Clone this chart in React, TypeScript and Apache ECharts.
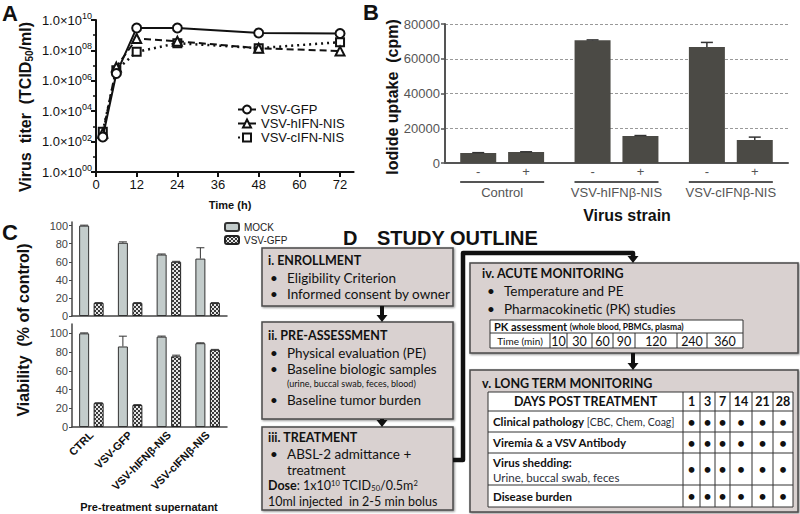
import React, { useEffect, useRef } from 'react';
import * as echarts from 'echarts';

// ---------- Panel A: virus growth ----------
const timeHours = [2, 6, 12, 24, 48, 72];
const titerGFP = [2e2, 3e6, 3e9, 3e9, 1.4e9, 1.3e9];
const titerHIFN = [3.5e2, 8e6, 6e8, 4e8, 1.4e8, 9e7];
const titerCIFN = [4.5e2, 5e6, 8e7, 3e8, 1.4e8, 3.5e8];
const timeTicks = [0, 12, 24, 36, 48, 60, 72];
const titerExpTicks = [0, 2, 4, 6, 8, 10];
const growthNames = ['VSV-GFP', 'VSV-hIFN-NIS', 'VSV-cIFN-NIS'];

// ---------- Panel B: iodide uptake ----------
const strains = ['Control', 'VSV-hIFNβ-NIS', 'VSV-cIFNβ-NIS'];
const uptakeMinus = [5800, 70600, 66800];
const uptakeMinusErr = [150, 250, 2600];
const uptakePlus = [6300, 15600, 13300];
const uptakePlusErr = [150, 200, 1600];
const uptakeTicks = [0, 20000, 40000, 60000, 80000];

// ---------- Panel C: viability ----------
const supernatants = ['CTRL', 'VSV-GFP', 'VSV-hIFNβ-NIS', 'VSV-cIFNβ-NIS'];
const topMock = [100, 81, 68, 63.5];
const topMockErr = [0.5, 1, 0.6, 12];
const topGFP = [14.5, 14.5, 60, 14.5];
const topGFPErr = [0.3, 0.3, 0.5, 0.3];
const botMock = [100, 86, 96.5, 89.5];
const botMockErr = [0.5, 11, 0.6, 0.4];
const botGFP = [25.5, 23.5, 75.5, 82.5];
const botGFPErr = [0.4, 0.4, 1.2, 0.4];
const viabilityTicks = [0, 20, 40, 60, 80, 100];
const viabilityNames = ['MOCK', 'VSV-GFP'];

// ---------- Panel D: study outline ----------
const pkTimes = ['10', '30', '60', '90', '120', '240', '360'];
const followDays = ['1', '3', '7', '14', '21', '28'];

const AR = '"Liberation Sans", Arial, sans-serif';
const CAL = 'Lato, "Open Sans", sans-serif';
const INK = '#111';

function txt(x: number, y: number, text: string, size: number, opts: any = {}) {
  const style: any = {
    text,
    fontFamily: opts.family || AR,
    fontSize: size,
    fontWeight: opts.bold ? 'bold' : 'normal',
    fill: opts.fill || INK,
    align: opts.align || 'left',
    verticalAlign: 'middle',
    textAlign: opts.align || 'left',
    textVerticalAlign: 'middle',
  };
  if (opts.rich) style.rich = opts.rich;
  return { type: 'text', x, y, rotation: opts.rotation || 0, silent: true, z: 20, style };
}
function rect(x: number, y: number, w: number, h: number, fill: string, stroke: string, lw: number, extra: any = {}) {
  return { type: 'rect', shape: { x, y, width: w, height: h }, style: { fill, stroke, lineWidth: lw, ...extra }, silent: true, z: 10 };
}
function ln(x1: number, y1: number, x2: number, y2: number, stroke = '#333', lw = 1) {
  return { type: 'line', shape: { x1, y1, x2, y2 }, style: { stroke, lineWidth: lw }, silent: true, z: 12 };
}
function arrowDown(x: number, y1: number, y2: number) {
  return [
    ln(x, y1, x, y2 - 6, INK, 4),
    { type: 'polygon', shape: { points: [[x - 5.5, y2 - 7], [x + 5.5, y2 - 7], [x, y2]] }, style: { fill: INK }, silent: true, z: 12 },
  ];
}

function errSeries(xi: number, yi: number, vals: number[], errs: number[], offset: number, cap: number, color: string, lw: number) {
  return {
    type: 'custom',
    xAxisIndex: xi,
    yAxisIndex: yi,
    z: 6,
    silent: true,
    data: vals.map((v, i) => [i, v, errs[i]]),
    encode: { x: 0, y: 1 },
    renderItem: (params: any, api: any) => {
      const i = api.value(0);
      const v = api.value(1);
      const e = api.value(2);
      const p0 = api.coord([i, v]);
      const p1 = api.coord([i, v + e]);
      const x = p0[0] + offset;
      return {
        type: 'group',
        children: [
          { type: 'line', shape: { x1: x, y1: p0[1], x2: x, y2: p1[1] }, style: { stroke: color, lineWidth: lw } },
          { type: 'line', shape: { x1: x - cap, y1: p1[1], x2: x + cap, y2: p1[1] }, style: { stroke: color, lineWidth: lw } },
        ],
      };
    },
  };
}

function buildOption() {
  const cv = document.createElement('canvas');
  cv.width = 4;
  cv.height = 4;
  const g = cv.getContext('2d')!;
  g.fillStyle = '#e6e6e6';
  g.fillRect(0, 0, 4, 4);
  g.fillStyle = '#3a3a3a';
  g.fillRect(0, 0, 2, 2);
  g.fillRect(2, 2, 2, 2);
  const checker: any = { image: cv, repeat: 'repeat', imageWidth: 4, imageHeight: 4 };

  const mockStyle = { color: '#c3cccb', borderColor: '#333', borderWidth: 1 };
  const gfpStyle = { color: checker, borderColor: '#222', borderWidth: 1 };

  const barB = '#4b4a45';
  const grayAxis = '#555';

  const graphics: any[] = [];
  // panel letters
  graphics.push(txt(2, 13, 'A', 22, { bold: true }));
  graphics.push(txt(363, 12, 'B', 22, { bold: true }));
  graphics.push(txt(2, 232, 'C', 22, { bold: true }));
  graphics.push(txt(343, 238, 'D', 20, { bold: true }));
  graphics.push(txt(377, 238, 'STUDY OUTLINE', 20, { bold: true }));

  // axis titles
  graphics.push(
    txt(25, 107, 'Virus  titer  (TCID{s|50}/ml)', 16, {
      bold: true,
      align: 'center',
      rotation: Math.PI / 2,
      rich: { s: { fontFamily: AR, fontWeight: 'bold', fontSize: 10, padding: [8, 0, 0, 0], fill: INK, color: INK } },
    })
  );
  graphics.push(txt(230, 205, 'Time (h)', 11, { bold: true, align: 'center' }));
  graphics.push(txt(392, 97, 'Iodide uptake  (cpm)', 16, { bold: true, align: 'center', rotation: Math.PI / 2 }));
  graphics.push(txt(627, 215, 'Virus strain', 16, { bold: true, align: 'center' }));
  graphics.push(txt(23, 330, 'Viability  (% of control)', 16, { bold: true, align: 'center', rotation: Math.PI / 2 }));
  graphics.push(txt(149, 507, 'Pre-treatment supernatant', 11, { bold: true, align: 'center' }));

  // ---------- Panel D diagram ----------
  const boxFill = '#d9d1d0';
  const boxStroke = '#4a4a4a';
  const shadow = { shadowBlur: 2, shadowColor: 'rgba(0,0,0,0.45)', shadowOffsetX: 1, shadowOffsetY: 1 };
  graphics.push(rect(262, 248, 191, 58, boxFill, boxStroke, 1.5, shadow));
  graphics.push(rect(262, 322, 191, 97, boxFill, boxStroke, 1.5, shadow));
  graphics.push(rect(262, 427, 191, 83, boxFill, boxStroke, 1.5, shadow));
  graphics.push(rect(470, 263, 328, 90, boxFill, boxStroke, 1.5, shadow));
  graphics.push(rect(470, 370, 328, 142, boxFill, boxStroke, 1.5, shadow));

  graphics.push(...arrowDown(382, 306, 322));
  graphics.push(...arrowDown(382, 419, 427));
  graphics.push(...arrowDown(633, 353, 370));
  graphics.push({
    type: 'polyline',
    shape: { points: [[453, 460], [463, 460], [463, 253], [633, 253], [633, 257]] },
    style: { stroke: INK, lineWidth: 4.5, fill: null, lineJoin: 'round' },
    silent: true,
    z: 12,
  });
  graphics.push({ type: 'polygon', shape: { points: [[627.5, 256], [638.5, 256], [633, 263]] }, style: { fill: INK }, silent: true, z: 12 });

  const body = 13.5;
  const bul = (x: number, y: number, t: string) => [txt(x, y, '•', body, { family: CAL }), txt(x + 17, y, t, body, { family: CAL })];
  // box i
  graphics.push(txt(268, 260, 'i. ENROLLMENT', 12.5, { family: CAL, bold: true }));
  graphics.push(...bul(270, 278, 'Eligibility Criterion'));
  graphics.push(...bul(270, 294, 'Informed consent by owner'));
  // box ii
  graphics.push(txt(268, 335, 'ii. PRE-ASSESSMENT', 12.5, { family: CAL, bold: true }));
  graphics.push(...bul(270, 353, 'Physical evaluation (PE)'));
  graphics.push(...bul(270, 369, 'Baseline biologic samples'));
  graphics.push(txt(287, 383, '(urine, buccal swab, feces, blood)', 9, { family: CAL }));
  graphics.push(...bul(270, 400, 'Baseline tumor burden'));
  // box iii
  graphics.push(txt(268, 437, 'iii. TREATMENT', 12.5, { family: CAL, bold: true }));
  graphics.push(...bul(270, 454, 'ABSL-2 admittance +'));
  graphics.push(txt(287, 469.5, 'treatment', body, { family: CAL }));
  graphics.push(
    txt(268, 485.5, '{b|Dose}: 1x10{p|10} TCID{d|50}/0.5m{p|2}', 12.5, {
      family: CAL,
      rich: {
        b: { fontFamily: CAL, fontWeight: 'bold', fontSize: 12.5, fill: INK, color: INK, lineHeight: 13 },
        p: { fontFamily: CAL, fontSize: 7.5, padding: [0, 0, 5, 0], fill: INK, color: INK, lineHeight: 8 },
        d: { fontFamily: CAL, fontSize: 7.5, padding: [5, 0, 0, 0], fill: INK, color: INK, lineHeight: 8 },
      },
    })
  );
  graphics.push(txt(268, 501.5, '10ml injected  in 2-5 min bolus', 12.5, { family: CAL }));

  // box iv
  graphics.push(txt(482, 273, 'iv. ACUTE MONITORING', 12.5, { family: CAL, bold: true }));
  graphics.push(...bul(487, 291, 'Temperature and PE'));
  graphics.push(...bul(487, 309, 'Pharmacokinetic (PK) studies'));
  graphics.push(rect(490, 320, 253, 28, '#ffffff', '#333', 1));
  graphics.push(ln(490, 333, 743, 333));
  graphics.push(
    txt(494, 326.5, 'PK assessment {s|(whole blood, PBMCs, plasma)}', 11, {
      family: CAL,
      bold: true,
      rich: { s: { fontFamily: CAL, fontWeight: 'bold', fontSize: 8.5, fill: INK, color: INK } },
    })
  );
  const pkCols = [490, 550, 567, 592, 613, 635, 677, 707, 743];
  for (let c = 1; c < pkCols.length - 1; c++) graphics.push(ln(pkCols[c], 333, pkCols[c], 348));
  graphics.push(txt((pkCols[0] + pkCols[1]) / 2, 341, 'Time (min)', 10, { family: CAL, align: 'center' }));
  pkTimes.forEach((t, i) => graphics.push(txt((pkCols[i + 1] + pkCols[i + 2]) / 2, 341, t, 12.5, { family: CAL, align: 'center' })));

  // box v
  graphics.push(txt(482, 383, 'v. LONG TERM MONITORING', 12.5, { family: CAL, bold: true }));
  graphics.push(rect(488, 392, 305, 115, '#ffffff', '#333', 1));
  const vRows = [392, 411, 432, 453, 485, 507];
  const vCols = [488, 683, 700, 715, 730, 752, 773, 793];
  for (let r = 1; r < vRows.length - 1; r++) graphics.push(ln(488, vRows[r], 793, vRows[r]));
  for (let c = 1; c < vCols.length - 1; c++) graphics.push(ln(vCols[c], 392, vCols[c], 507));
  graphics.push(txt((vCols[0] + vCols[1]) / 2, 401.5, 'DAYS POST TREATMENT', 12.5, { family: CAL, bold: true, align: 'center' }));
  followDays.forEach((d, i) => graphics.push(txt((vCols[i + 1] + vCols[i + 2]) / 2, 401.5, d, 12.5, { family: CAL, bold: true, align: 'center' })));
  graphics.push(
    txt(493, 421.5, 'Clinical pathology {n|[CBC, Chem, Coag]}', 11.5, {
      family: CAL,
      bold: true,
      rich: { n: { fontFamily: CAL, fontWeight: 'normal', fontSize: 10.5, fill: '#2b2f3a', color: '#2b2f3a' } },
    })
  );
  graphics.push(txt(493, 442.5, 'Viremia & a VSV Antibody', 11.5, { family: CAL, bold: true }));
  graphics.push(txt(493, 462, 'Virus shedding:', 11.5, { family: CAL, bold: true }));
  graphics.push(txt(493, 477, 'Urine, buccal swab, feces', 11.5, { family: CAL, fill: '#2b2f3a' }));
  graphics.push(txt(493, 496, 'Disease burden', 11.5, { family: CAL, bold: true }));
  const dotRows = [421.5, 442.5, 469, 496];
  dotRows.forEach((ry) => {
    followDays.forEach((_, i) => graphics.push(txt((vCols[i + 1] + vCols[i + 2]) / 2, ry, '•', 13, { family: CAL, bold: true, align: 'center' })));
  });

  const option: any = {
    animation: false,
    backgroundColor: '#ffffff',
    textStyle: { fontFamily: AR },
    grid: [
      { left: 96, top: 20, width: 257.6, height: 152, containLabel: false, outerBoundsMode: 'none' },
      { left: 445, top: 24, width: 343, height: 139, containLabel: false, outerBoundsMode: 'none' },
      { left: 72, top: 222, width: 155, height: 94, containLabel: false, outerBoundsMode: 'none' },
      { left: 72, top: 324, width: 155, height: 103, containLabel: false, outerBoundsMode: 'none' },
    ],
    xAxis: [
      {
        type: 'value',
        gridIndex: 0,
        min: 0,
        max: 76,
        interval: 12,
        axisLine: { lineStyle: { color: INK, width: 2 } },
        axisTick: { show: true, length: 5, lineStyle: { color: INK, width: 2 }, customValues: timeTicks },
        axisLabel: { fontSize: 13, color: INK, fontFamily: AR, margin: 6, customValues: timeTicks },
        splitLine: { show: false },
      },
      {
        type: 'category',
        gridIndex: 1,
        data: strains,
        axisLine: { lineStyle: { color: grayAxis, width: 2 } },
        axisTick: { show: false },
        axisLabel: {
          interval: 0,
          margin: 18,
          formatter: (v: string) => `{ln| }\n{nm|${v}}`,
          rich: {
            ln: { width: 84, height: 2, lineHeight: 2, backgroundColor: '#555', fontSize: 1 },
            nm: { fontSize: 13, color: '#555', fontFamily: AR, lineHeight: 16, padding: [2, 0, 0, 0] },
          },
        },
        splitLine: { show: false },
      },
      {
        type: 'category',
        gridIndex: 2,
        data: supernatants,
        axisLine: { lineStyle: { color: '#444', width: 1.5 } },
        axisTick: { show: false },
        axisLabel: { show: false },
      },
      {
        type: 'category',
        gridIndex: 3,
        data: supernatants,
        axisLine: { lineStyle: { color: '#444', width: 1.5 } },
        axisTick: { show: false },
        axisLabel: { interval: 0, rotate: 45, fontSize: 11, fontWeight: 'bold', color: INK, fontFamily: AR, margin: 6 },
      },
    ],
    yAxis: [
      {
        type: 'value',
        gridIndex: 0,
        min: 0,
        max: 10,
        interval: 2,
        axisLine: { show: true, lineStyle: { color: INK, width: 2 } },
        axisTick: { show: true, length: 5, lineStyle: { color: INK, width: 2 } },
        minorTick: { show: true, splitNumber: 2, length: 3, lineStyle: { color: INK, width: 1.5 } },
        axisLabel: {
          margin: 4,
          formatter: (v: number) => `{m|1.0×10}{s|${String(v).padStart(2, '0')}}`,
          rich: {
            m: { fontSize: 13, fontFamily: AR, color: INK },
            s: { fontSize: 9, fontFamily: AR, color: INK, padding: [0, 0, 8, 0] },
          },
          customValues: titerExpTicks,
        },
        splitLine: { show: false },
      },
      {
        type: 'value',
        gridIndex: 1,
        min: 0,
        max: 80000,
        interval: 20000,
        axisLine: { show: true, lineStyle: { color: grayAxis, width: 2 } },
        axisTick: { show: true, length: 4, lineStyle: { color: grayAxis, width: 1.5 } },
        axisLabel: { fontSize: 13, color: '#555', fontFamily: AR, margin: 5, customValues: uptakeTicks, formatter: (v: number) => String(v) },
        splitLine: { show: true, lineStyle: { color: '#999', type: [3, 2], width: 1 } },
      },
      {
        type: 'value',
        gridIndex: 2,
        min: 0,
        max: 104,
        interval: 20,
        axisLine: { show: true, lineStyle: { color: '#444', width: 1.5 } },
        axisTick: { show: true, length: 3, lineStyle: { color: '#444' }, customValues: viabilityTicks },
        axisLabel: { fontSize: 11, color: '#444', fontFamily: AR, margin: 4, customValues: viabilityTicks },
        splitLine: { show: false },
      },
      {
        type: 'value',
        gridIndex: 3,
        min: 0,
        max: 110,
        interval: 20,
        axisLine: { show: true, lineStyle: { color: '#444', width: 1.5 } },
        axisTick: { show: true, length: 3, lineStyle: { color: '#444' }, customValues: viabilityTicks },
        axisLabel: { fontSize: 11, color: '#444', fontFamily: AR, margin: 4, customValues: viabilityTicks },
        splitLine: { show: false },
      },
    ],
    legend: [
      {
        data: growthNames,
        orient: 'vertical',
        left: 232,
        top: 98,
        itemWidth: 18,
        itemHeight: 10,
        itemGap: 1,
        textStyle: { fontSize: 13, color: INK, fontFamily: AR },
      },
      {
        data: viabilityNames.map((n) => (n === 'VSV-GFP' ? 'VSV-GFP (C)' : n)),
        orient: 'vertical',
        left: 219,
        top: 217,
        itemWidth: 14,
        itemHeight: 8,
        itemGap: 3,
        formatter: (n: string) => n.replace(' (C)', ''),
        textStyle: { fontSize: 10, color: '#222', fontFamily: AR },
      },
    ],
    series: [
      {
        name: growthNames[0],
        type: 'line',
        xAxisIndex: 0,
        yAxisIndex: 0,
        data: timeHours.map((t, i) => [t, Math.log10(titerGFP[i])]),
        symbol: 'emptyCircle',
        symbolSize: 9,
        lineStyle: { color: INK, width: 2, type: 'solid' },
        itemStyle: { color: INK, borderWidth: 1.5 },
        z: 4,
      },
      {
        name: growthNames[1],
        type: 'line',
        xAxisIndex: 0,
        yAxisIndex: 0,
        data: timeHours.map((t, i) => [t, Math.log10(titerHIFN[i])]),
        symbol: 'emptyTriangle',
        symbolSize: 9,
        lineStyle: { color: INK, width: 2, type: [7, 4] },
        itemStyle: { color: INK, borderWidth: 1.5 },
        z: 3,
      },
      {
        name: growthNames[2],
        type: 'line',
        xAxisIndex: 0,
        yAxisIndex: 0,
        data: timeHours.map((t, i) => [t, Math.log10(titerCIFN[i])]),
        symbol: 'emptyRect',
        symbolSize: 8,
        lineStyle: { color: INK, width: 2.5, type: [2, 4] },
        itemStyle: { color: INK, borderWidth: 1.5 },
        z: 2,
      },
      {
        name: 'minus',
        type: 'bar',
        xAxisIndex: 1,
        yAxisIndex: 1,
        data: uptakeMinus,
        barWidth: 36,
        barGap: '33%',
        itemStyle: { color: barB },
        label: { show: true, position: 'bottom', distance: 2, formatter: '-', fontSize: 13, color: '#555', fontFamily: AR },
      },
      {
        name: 'plus',
        type: 'bar',
        xAxisIndex: 1,
        yAxisIndex: 1,
        data: uptakePlus,
        barWidth: 36,
        barGap: '33%',
        itemStyle: { color: barB },
        label: { show: true, position: 'bottom', distance: 2, formatter: '+', fontSize: 13, color: '#555', fontFamily: AR },
      },
      errSeries(1, 1, uptakeMinus, uptakeMinusErr, -23.94, 6, '#333', 1.5),
      errSeries(1, 1, uptakePlus, uptakePlusErr, 23.94, 6, '#333', 1.5),
      { name: 'MOCK', type: 'bar', xAxisIndex: 2, yAxisIndex: 2, data: topMock, barWidth: 10, barGap: '45%', itemStyle: mockStyle },
      { name: 'VSV-GFP (C)', type: 'bar', xAxisIndex: 2, yAxisIndex: 2, data: topGFP, barWidth: 10, barGap: '45%', itemStyle: gfpStyle },
      { name: 'MOCK', type: 'bar', xAxisIndex: 3, yAxisIndex: 3, data: botMock, barWidth: 10, barGap: '45%', itemStyle: mockStyle },
      { name: 'VSV-GFP (C)', type: 'bar', xAxisIndex: 3, yAxisIndex: 3, data: botGFP, barWidth: 10, barGap: '45%', itemStyle: gfpStyle },
      errSeries(2, 2, topMock, topMockErr, -7.25, 4, '#333', 1),
      errSeries(2, 2, topGFP, topGFPErr, 7.25, 4, '#333', 1),
      errSeries(3, 3, botMock, botMockErr, -7.25, 4, '#333', 1),
      errSeries(3, 3, botGFP, botGFPErr, 7.25, 4, '#333', 1),
    ],
    graphic: graphics,
  };
  return option;
}

export default function App() {
  const ref = useRef<HTMLDivElement>(null);
  useEffect(() => {
    document.body.style.margin = '0';
    const chart = echarts.init(ref.current!, null, { renderer: 'svg' });
    chart.setOption(buildOption());
    return () => chart.dispose();
  }, []);
  return <div ref={ref} style={{ width: 800, height: 514 }} />;
}
